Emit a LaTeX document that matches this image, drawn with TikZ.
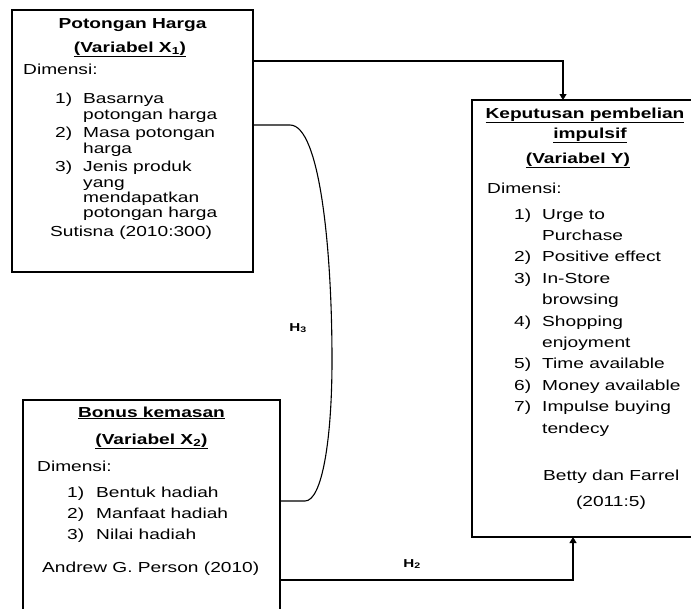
\documentclass[tikz,border=0pt]{standalone}
\usepackage{fontspec}
\setmainfont{Liberation Sans}[FakeStretch=1.32]
\usetikzlibrary{arrows.meta}
\tikzset{
  box/.style={draw, rectangle, line width=1.1pt, inner sep=0pt, outer sep=0pt},
  txt/.style={anchor=base west, inner sep=0pt, font=\fontsize{14.5}{17}\selectfont},
  ttl/.style={anchor=base, inner sep=0pt, font=\fontsize{14.5}{17}\selectfont\bfseries},
  hlab/.style={inner sep=0pt, font=\fontsize{11.5}{12}\selectfont\bfseries},
  conn/.style={line width=1.1pt},
  arr/.style={line width=1.1pt, -{Triangle[length=6pt,width=7pt]}}
}
\begin{document}
\begin{tikzpicture}[x=1pt,y=-1pt]
\useasboundingbox (0,0) rectangle (691,608);
% boxes
\node[box, minimum width=241pt, minimum height=262pt] (b1) at (132.5,141) {};
\node[box, minimum width=257pt, minimum height=215pt] (b2) at (151.5,507.5) {};
\node[box, minimum width=224pt, minimum height=437pt] (b3) at (584,318.5) {};
% box 1 texts
\node[ttl] (t1a) at (132.5,28) {Potongan Harga};
\node[ttl] (t1b) at (130,52) {\underline{(Variabel X\textsubscript{1})}};
\node[txt] (t1c) at (23,74) {Dimensi:};
\node[txt] (n11) at (55,103) {1)};
\node[txt] (l11) at (83,103) {Basarnya};
\node[txt] (l12) at (83,119) {potongan harga};
\node[txt] (n12) at (55,137) {2)};
\node[txt] (l13) at (83,137) {Masa potongan};
\node[txt] (l14) at (83,153) {harga};
\node[txt] (n13) at (55,171) {3)};
\node[txt] (l15) at (83,171) {Jenis produk};
\node[txt] (l16) at (83,187) {yang};
\node[txt] (l17) at (83,202) {mendapatkan};
\node[txt] (l18) at (83,217) {potongan harga};
\node[txt] (s1) at (50,236) {Sutisna (2010:300)};
% box 2 texts
\node[ttl] (t2a) at (151.5,417) {\underline{Bonus kemasan}};
\node[ttl] (t2b) at (151.5,444) {\underline{(Variabel X\textsubscript{2})}};
\node[txt] (t2c) at (37,471) {Dimensi:};
\node[txt] (n21) at (67,497) {1)};
\node[txt] (l21) at (96,497) {Bentuk hadiah};
\node[txt] (n22) at (67,518) {2)};
\node[txt] (l22) at (96,518) {Manfaat hadiah};
\node[txt] (n23) at (67,539) {3)};
\node[txt] (l23) at (96,539) {Nilai hadiah};
\node[txt] (s2) at (42,572) {Andrew G. Person (2010)};
% box 3 texts
\node[ttl] (t3a) at (585,118) {\underline{Keputusan pembelian}};
\node[ttl] (t3b) at (590,138) {\underline{impulsif}};
\node[ttl] (t3c) at (578,163) {\underline{(Variabel Y)}};
\node[txt] (t3d) at (487,193) {Dimensi:};
\node[txt] (n31) at (514,219) {1)};
\node[txt] (l31) at (542,219) {Urge to};
\node[txt] (l32) at (542,240.4) {Purchase};
\node[txt] (n32) at (514,261.8) {2)};
\node[txt] (l33) at (542,261.8) {Positive effect};
\node[txt] (n33) at (514,283.2) {3)};
\node[txt] (l34) at (542,283.2) {In-Store};
\node[txt] (l35) at (542,304.6) {browsing};
\node[txt] (n34) at (514,326) {4)};
\node[txt] (l36) at (542,326) {Shopping};
\node[txt] (l37) at (542,347.4) {enjoyment};
\node[txt] (n35) at (514,368.8) {5)};
\node[txt] (l38) at (542,368.8) {Time available};
\node[txt] (n36) at (514,390.2) {6)};
\node[txt] (l39) at (542,390.2) {Money available};
\node[txt] (n37) at (514,411.6) {7)};
\node[txt] (l40) at (542,411.6) {Impulse buying};
\node[txt] (l41) at (542,433) {tendecy};
\node[txt] (s3a) at (543,480) {Betty dan Farrel};
\node[ttl, font=\fontsize{14.5}{17}\selectfont] (s3b) at (611,506) {(2011:5)};
% connectors
\draw[arr] (b1.east |- 0,61) -| (b3.north -| 563,0);
\draw[arr] (b2.east |- 0,580) -| (b3.south -| 573,0);
\draw[conn] (b1.east |- 0,125) -- (290,125)
  .. controls (320,125) and (332,250) .. (332,360)
  .. controls (332,440) and (322,501) .. (305,501)
  -- (b2.east |- 0,501);
% labels
\node[hlab] (h3) at (298,328) {H\textsubscript{3}};
\node[hlab] (h2) at (412,564) {H\textsubscript{2}};
\end{tikzpicture}
\end{document}
